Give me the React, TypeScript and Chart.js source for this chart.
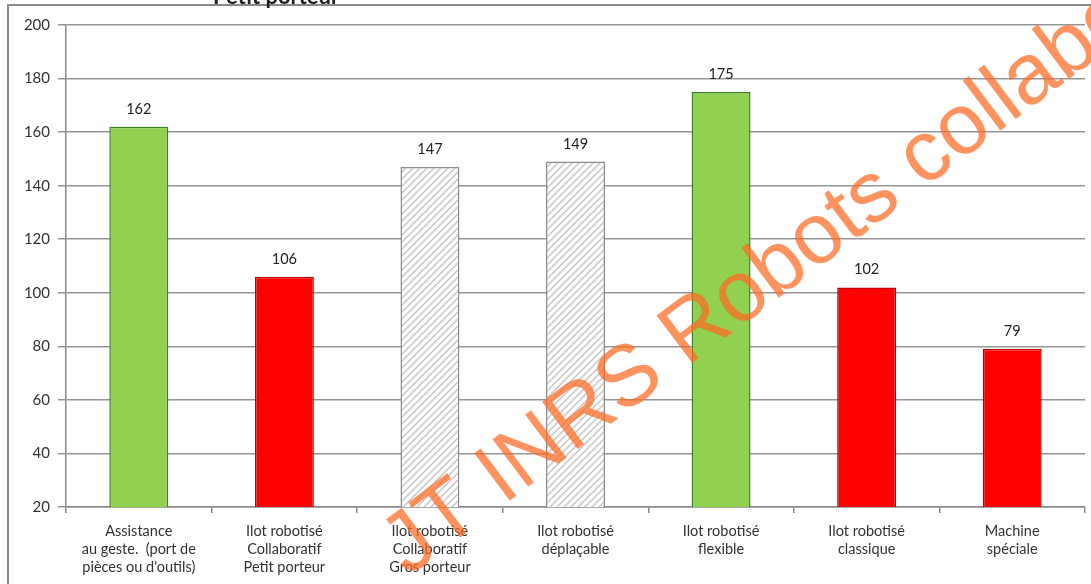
import React, { useEffect, useRef } from "react";
import { Chart, registerables } from "chart.js";

Chart.register(...registerables);

const categories: string[][] = [
  ["Assistance", "au geste.  (port de", "pièces ou d'outils)"],
  ["Ilot robotisé", "Collaboratif", "Petit porteur"],
  ["Ilot robotisé", "Collaboratif", "Gros porteur"],
  ["Ilot robotisé", "déplaçable"],
  ["Ilot robotisé", "flexible"],
  ["Ilot robotisé", "classique"],
  ["Machine", "spéciale"],
];
const values: number[] = [162, 106, 147, 149, 175, 102, 79];
const kinds: string[] = ["green", "red", "hatch", "hatch", "green", "red", "red"];
const yTicks = { min: 20, max: 200, step: 20 };
const watermarkText = "JT INRS Robots collaboratifs";
const topText = "Petit porteur";

const FONT = "Lato, 'Noto Sans', sans-serif";

function makeHatch(): CanvasPattern | string {
  const s = 7;
  const c = document.createElement("canvas");
  c.width = s;
  c.height = s;
  const g = c.getContext("2d");
  if (!g) return "#eee";
  g.fillStyle = "#ffffff";
  g.fillRect(0, 0, s, s);
  g.strokeStyle = "#c4c4c4";
  g.lineWidth = 1.4;
  g.beginPath();
  g.moveTo(-1, s + 1);
  g.lineTo(s + 1, -1);
  g.moveTo(-1, 1);
  g.lineTo(1, -1);
  g.moveTo(s - 1, s + 1);
  g.lineTo(s + 1, s - 1);
  g.stroke();
  const pat = g.createPattern(c, "repeat");
  return pat || "#eee";
}

export default function App() {
  const ref = useRef<HTMLCanvasElement | null>(null);

  useEffect(() => {
    const canvas = ref.current;
    if (!canvas) return;
    const hatch = makeHatch();
    const fills = kinds.map((k) => (k === "green" ? "#92D050" : k === "red" ? "#FF0000" : hatch));
    const borders = kinds.map((k) => (k === "green" ? "#3F7F25" : k === "red" ? "#C00000" : "#8a8a8a"));

    const labelPlugin = {
      id: "valueLabels",
      afterDatasetsDraw(chart: any) {
        const ctx = chart.ctx;
        const meta = chart.getDatasetMeta(0);
        ctx.save();
        ctx.font = `14.5px ${FONT}`;
        ctx.fillStyle = "#222";
        ctx.textAlign = "center";
        ctx.textBaseline = "alphabetic";
        meta.data.forEach((bar: any, i: number) => {
          ctx.fillText(String(values[i]), bar.x, bar.y - 13);
        });
        ctx.restore();
      },
    };

    const decoPlugin = {
      id: "deco",
      afterDraw(chart: any) {
        const ctx = chart.ctx;
        ctx.save();
        // frame
        ctx.strokeStyle = "#8a8a8a";
        ctx.lineWidth = 2;
        ctx.beginPath();
        ctx.moveTo(8, 600);
        ctx.lineTo(8, 5);
        ctx.lineTo(1100, 5);
        ctx.stroke();
        // cut-off title text
        ctx.font = `bold 22px ${FONT}`;
        ctx.fillStyle = "#222";
        ctx.textAlign = "left";
        ctx.textBaseline = "alphabetic";
        ctx.fillText(topText, 213, 4);
        // watermark
        ctx.translate(408, 577);
        ctx.rotate((-37 * Math.PI) / 180);
        ctx.font = `86px 'Liberation Sans', Arial, sans-serif`;
        ctx.fillStyle = "rgba(255, 105, 35, 0.72)";
        ctx.fillText(watermarkText, 0, 0);
        ctx.restore();
      },
    };

    const chart = new Chart(canvas, {
      type: "bar",
      data: {
        labels: categories,
        datasets: [
          {
            data: values,
            backgroundColor: fills as any,
            borderColor: borders,
            borderWidth: 1.5,
            barPercentage: 0.405,
            categoryPercentage: 1,
          },
        ],
      },
      options: {
        responsive: false,
        animation: false,
        layout: { padding: { left: 0, top: 25, right: 6, bottom: 0 } },
        plugins: {
          legend: { display: false },
          tooltip: { enabled: false },
        },
        scales: {
          x: {
            offset: true,
            grid: {
              display: true,
              offset: true,
              drawOnChartArea: false,
              drawTicks: true,
              tickLength: 6,
              color: "#8a8a8a",
              lineWidth: 1.5,
            },
            border: { display: true, color: "#8a8a8a", width: 1.5 },
            ticks: {
              color: "#333",
              font: { family: FONT, size: 14.5, lineHeight: "18px" },
              padding: 9,
              maxRotation: 0,
              autoSkip: false,
            },
            afterFit(scale: any) {
              scale.height = 77;
            },
          },
          y: {
            min: yTicks.min,
            max: yTicks.max,
            ticks: {
              stepSize: yTicks.step,
              color: "#333",
              font: { family: FONT, size: 15 },
              padding: 8,
            },
            grid: {
              color: "#959595",
              lineWidth: 1.5,
              tickLength: 8,
            },
            border: { display: true, color: "#8a8a8a", width: 1.5 },
            afterFit(scale: any) {
              scale.width = 66;
            },
          },
        },
      },
      plugins: [labelPlugin, decoPlugin],
    });
    return () => chart.destroy();
  }, []);

  return (
    <div style={{ position: "fixed", left: 0, top: 0, width: 1091, height: 584, background: "#fff" }}>
      <canvas ref={ref} width={1091} height={584} style={{ display: "block" }} />
    </div>
  );
}
